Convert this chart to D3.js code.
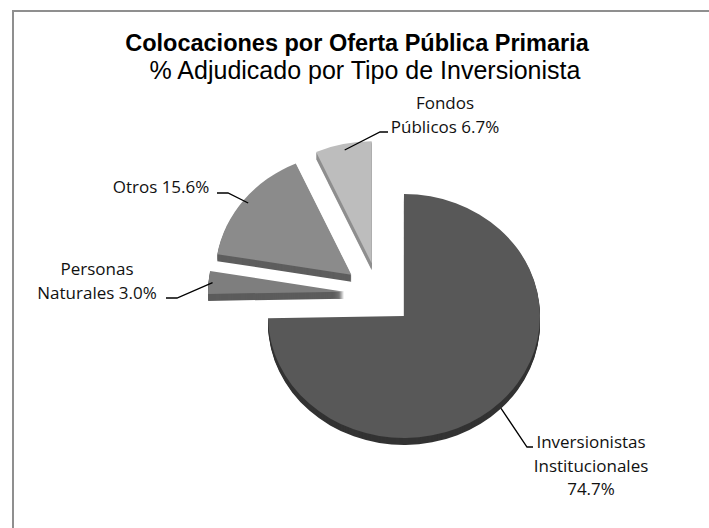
<!DOCTYPE html>
<head>
  <meta charset="utf-8">
  <script src="https://d3js.org/d3.v7.min.js"></script>
  <style>
    body { margin: 0; background: #fff; }
    svg { display: block; }
  </style>
</head>
<body>
  <script>
    // data (share of amount awarded, %)
    var categories = ['Inversionistas Institucionales', 'Personas Naturales', 'Otros', 'Fondos Públicos'];
    var shares = [74.7, 3.0, 15.6, 6.7];
    var titleText = 'Colocaciones por Oferta Pública Primaria';
    var subtitleText = '% Adjudicado por Tipo de Inversionista';

    var outerWidth = 709,
      outerHeight = 528;

    // pie geometry (tilted 3d look)
    var cx = 379, cy = 294,
      rx = 136, tilt = 0.897,
      explode = 35, depth = 7;

    var topColors = ['#585858', '#7e7e7e', '#8b8b8b', '#bdbdbd'],
      sideColors = ['#333333', '#5c5c5c', '#5e5e5e', '#8e8e8e'];

    // label layout: how to wrap, where the text sits, leader elbow
    var labelLayout = [
      { wrap: 'stack', x: 591, y: 448, elbow: [527, 447], end: [533, 447], r: 1.0 },
      { wrap: 'first', x: 97, y: 275, elbow: [177, 298], end: [166, 298], r: 0.97 },
      { wrap: 'one', x: 161, y: 193, elbow: [228, 193], end: [217, 193], r: 0.96 },
      { wrap: 'first', x: 445, y: 109, elbow: [380, 132], end: [388, 132], r: 0.95 }
    ];

    var svg = d3.select('body')
      .append('svg')
      .attr('width', outerWidth)
      .attr('height', outerHeight);

    // frame (only top and left edges show)
    svg.append('path')
      .attr('d', 'M13,' + outerHeight + 'V11H' + outerWidth)
      .attr('fill', 'none')
      .attr('stroke', '#8f8f8f')
      .attr('stroke-width', 2);

    svg.append('text')
      .attr('x', 357)
      .attr('y', 51)
      .attr('text-anchor', 'middle')
      .style('font-family', '"Liberation Sans", Arial, sans-serif')
      .style('font-weight', 'bold')
      .style('font-size', '23.5px')
      .text(titleText);

    svg.append('text')
      .attr('x', 365)
      .attr('y', 79)
      .attr('text-anchor', 'middle')
      .style('font-family', '"Liberation Sans", Arial, sans-serif')
      .style('font-size', '25px')
      .text(subtitleText);

    var data = categories.map(function(c, i) {
      return { name: c, value: shares[i], i: i };
    });

    var pie = d3.pie()
      .sort(null)
      .value(function(d) { return d.value; })
      .startAngle(0)
      .endAngle(2 * Math.PI);

    var arcs = pie(data);

    var arc = d3.arc()
      .innerRadius(0)
      .outerRadius(rx);

    function apex(a) {
      var mid = (a.startAngle + a.endAngle) / 2;
      return [cx + explode * Math.sin(mid), cy - explode * Math.cos(mid) * tilt];
    }

    // back slices first, the big one last
    var drawOrder = [3, 2, 1, 0];

    drawOrder.forEach(function(i) {
      var a = arcs[i];
      var p = apex(a);
      var g = svg.append('g');
      for (var k = depth; k >= 1; k--) {
        g.append('path')
          .attr('d', arc(a))
          .attr('transform', 'translate(' + p[0] + ',' + (p[1] + k) + ') scale(1,' + tilt + ')')
          .attr('fill', sideColors[i]);
      }
      g.append('path')
        .attr('d', arc(a))
        .attr('transform', 'translate(' + p[0] + ',' + p[1] + ') scale(1,' + tilt + ')')
        .attr('fill', topColors[i]);
    });

    // leader lines + labels
    var fmt = d3.format('.1f');
    arcs.forEach(function(a, i) {
      var lay = labelLayout[i];
      var p = apex(a);
      var mid = (a.startAngle + a.endAngle) / 2;
      var sx = p[0] + rx * lay.r * Math.sin(mid),
        sy = p[1] - rx * lay.r * Math.cos(mid) * tilt + (i === 0 ? depth : 0);

      svg.append('path')
        .attr('d', 'M' + sx + ',' + sy + 'L' + lay.elbow[0] + ',' + lay.elbow[1] + 'L' + lay.end[0] + ',' + lay.end[1])
        .attr('fill', 'none')
        .attr('stroke', '#000')
        .attr('stroke-width', 1.3);

      var words = a.data.name.split(' ');
      var pct = fmt(a.data.value) + '%';
      var lines;
      if (lay.wrap === 'stack') lines = words.concat([pct]);
      else if (lay.wrap === 'first') lines = [words[0], words.slice(1).join(' ') + ' ' + pct];
      else lines = [a.data.name + ' ' + pct];

      var t = svg.append('text')
        .attr('text-anchor', 'middle')
        .style('font-family', '"Open Sans", "Noto Sans", sans-serif')
        .style('font-size', '17px')
        .attr('fill', '#111');
      lines.forEach(function(l, j) {
        t.append('tspan')
          .attr('x', lay.x)
          .attr('y', lay.y + j * 23.5)
          .text(l);
      });
    });
  </script>
</body>
